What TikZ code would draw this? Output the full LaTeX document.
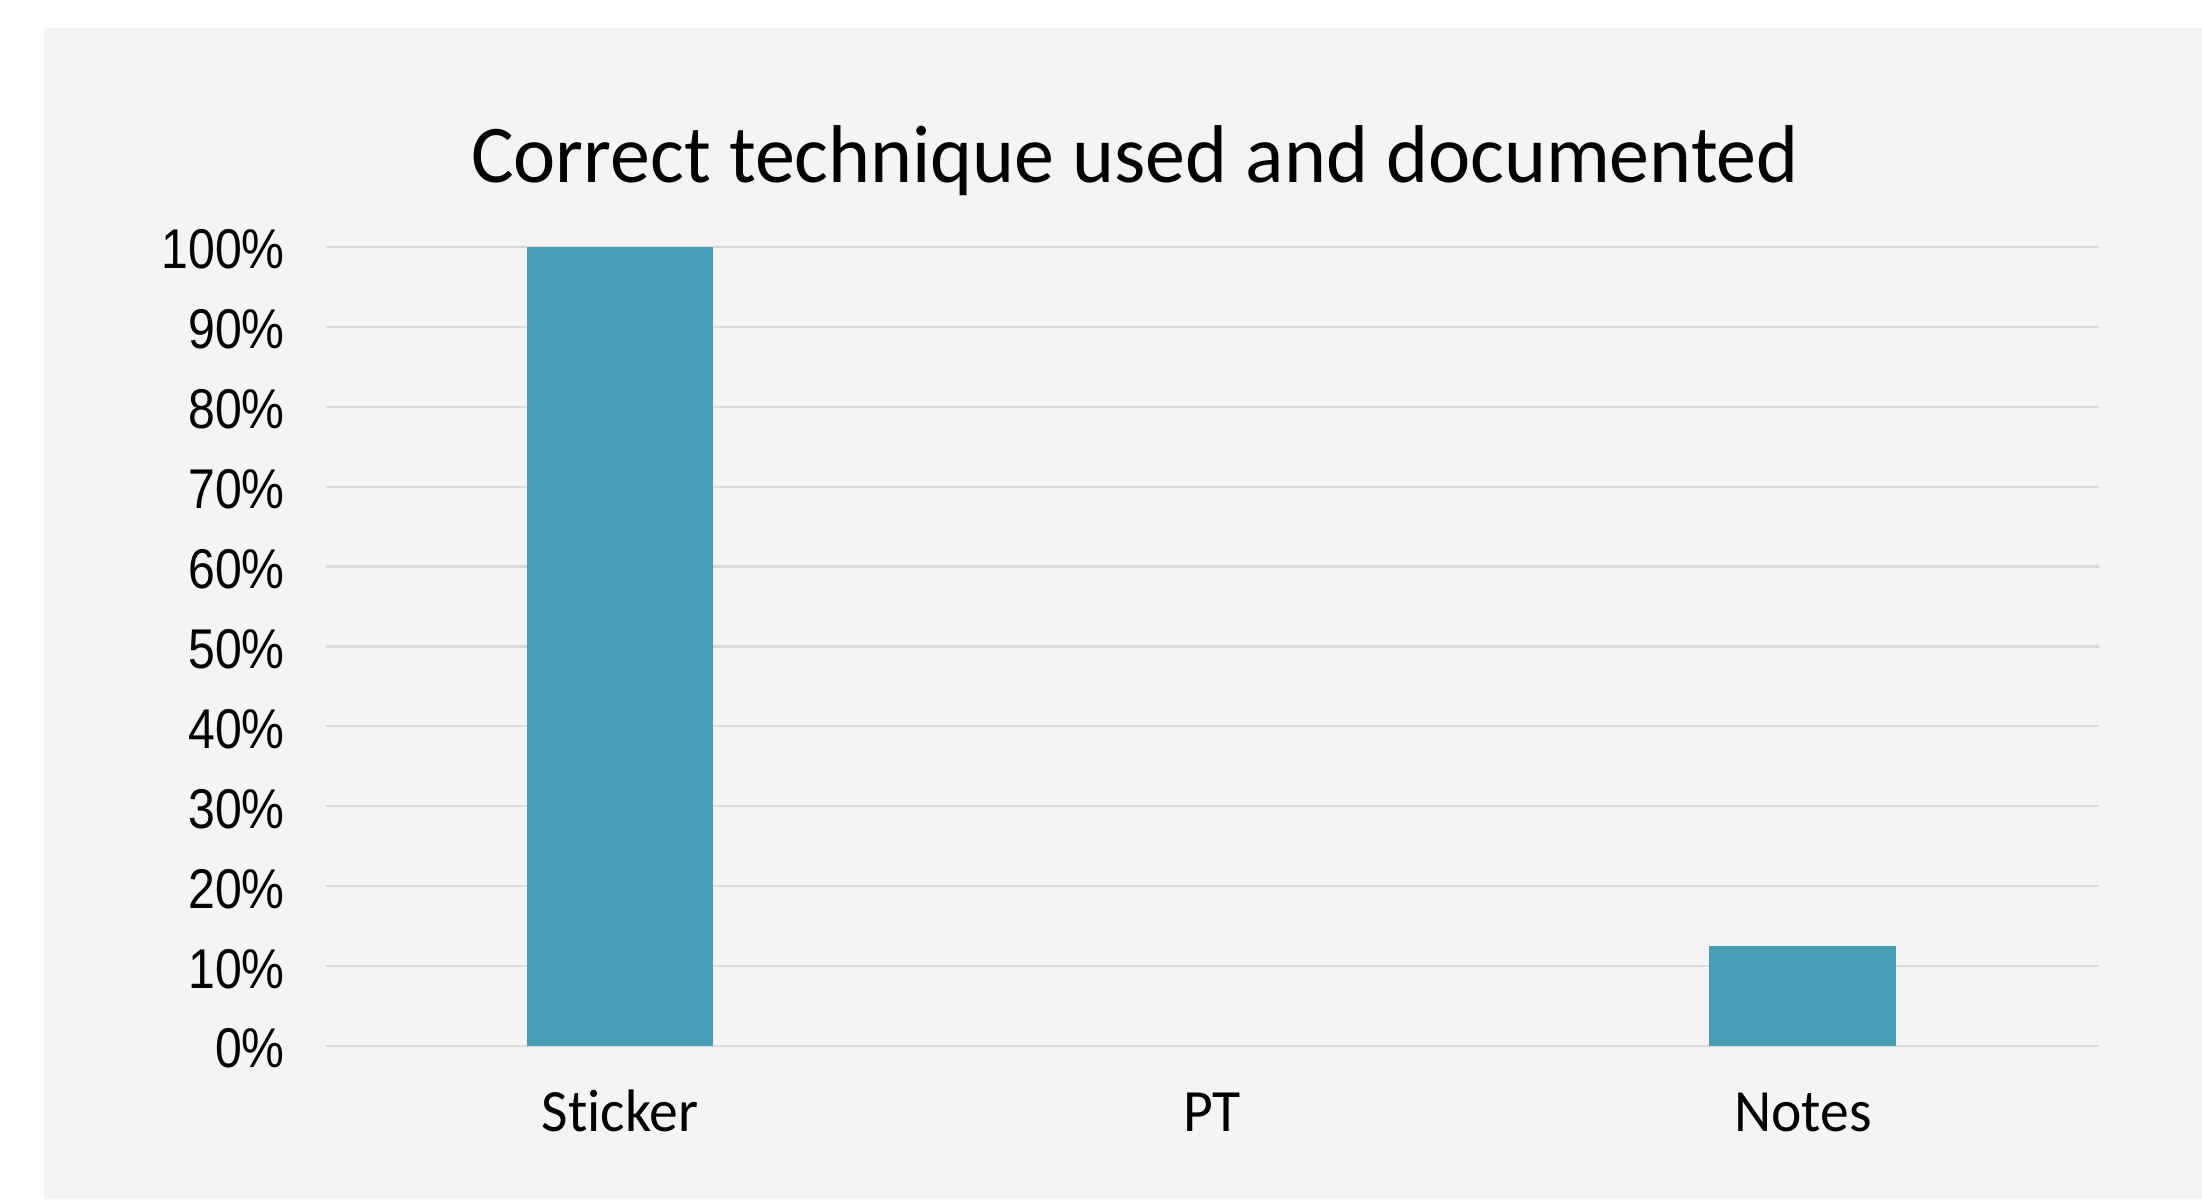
\documentclass[tikz,border=0pt]{standalone}
\usepackage{fontspec}
\usepackage{graphicx}
\setmainfont{Carlito}[Ligatures=NoCommon]
\newfontfamily\axisfont{Liberation Sans}
\definecolor{panelc}{HTML}{F4F4F4}
\definecolor{gridc}{HTML}{D9D9D9}
\definecolor{barc}{HTML}{479DB6}
\begin{document}
\begin{tikzpicture}[x=1pt,y=1pt,
  gridline/.style={draw=gridc, line width=2.2pt},
  barbox/.style={fill=barc, draw=none},
  ylabel/.style={anchor=base east, inner sep=0pt, font=\axisfont\fontsize{56}{60}\selectfont},
  catlabel/.style={anchor=base, inner sep=0pt, font=\fontsize{60}{66}\selectfont},
  titlelabel/.style={anchor=base, inner sep=0pt, font=\fontsize{82}{90}\selectfont}]
\useasboundingbox (0,0) rectangle (2202,1199);
\fill[white] (0,0) rectangle (2202,1199);
\fill[panelc] (44,0) rectangle (2202,1171);
% gridlines
\foreach \k in {0,...,10}{
  \draw[gridline] (326,{153+79.9*\k}) -- (2099,{153+79.9*\k});
}
% y labels
\foreach \k/\t in {0/0\%,1/10\%,2/20\%,3/30\%,4/40\%,5/50\%,6/60\%,7/70\%,8/80\%,9/90\%,10/100\%}{
  \node[ylabel] (yl\k) at (285,{153+79.9*\k-22}) {\scalebox{0.86}[1]{\t}};
}
% bars
\fill[barbox] (527,153) rectangle (713,952) coordinate (stickerbar);
\fill[barbox] (1709,153) rectangle (1896,253) coordinate (notesbar);
% category labels
\node[catlabel] (cat1) at (620,67) {\scalebox{0.96}[1]{Sticker}};
\node[catlabel] (cat2) at (1212,67) {\scalebox{0.96}[1]{PT}};
\node[catlabel] (cat3) at (1803,67) {\scalebox{0.96}[1]{Notes}};
% title
\node[titlelabel] (title) at (1135,1016) {\scalebox{0.975}[1]{Correct technique used and documented}};
\end{tikzpicture}
\end{document}
